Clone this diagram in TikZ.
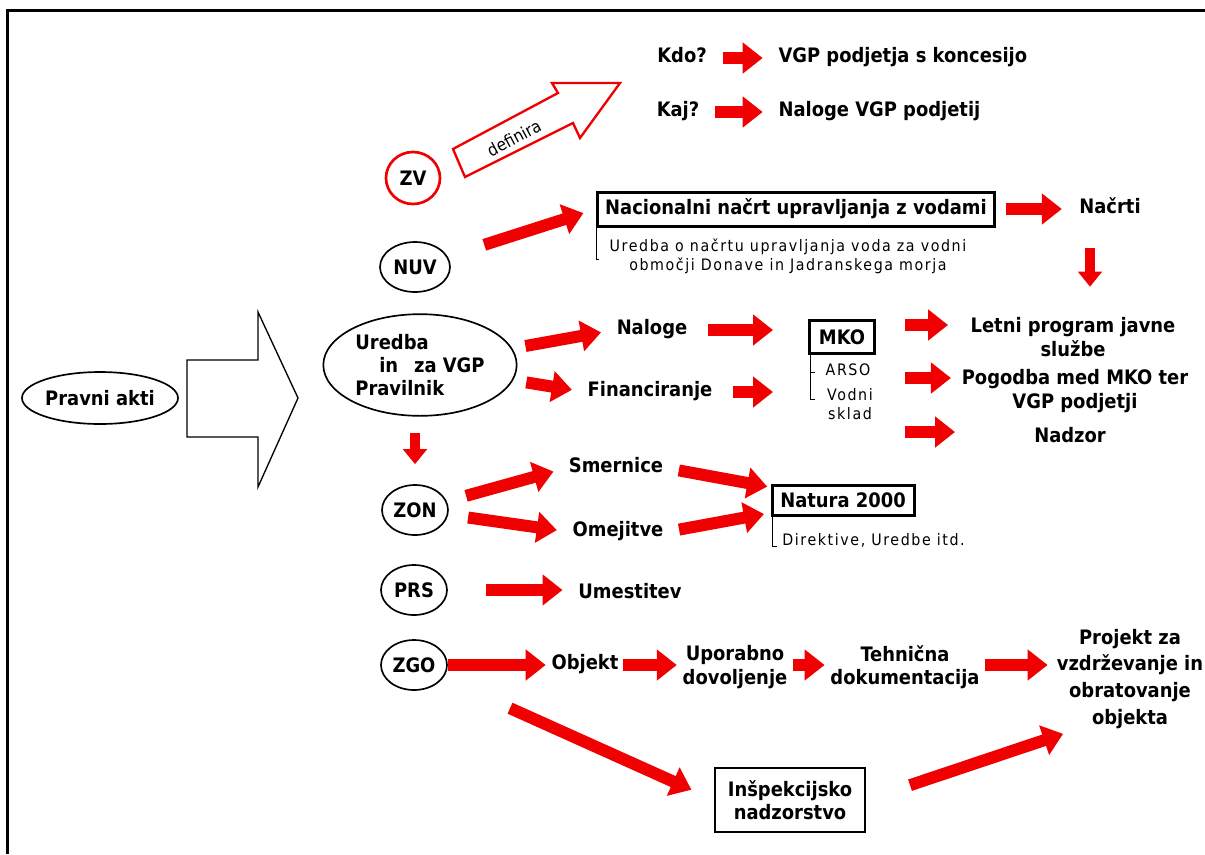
\documentclass[tikz,border=0pt]{standalone}
\usepackage{fontspec}
\setmainfont{DejaVu Sans Condensed}
\usetikzlibrary{shapes.geometric, arrows.meta, calc}
\definecolor{arrred}{RGB}{240,0,0}

\begin{document}
\begin{tikzpicture}[x=0.03cm, y=-0.03cm,
    txt/.style={font=\bfseries\fontsize{17}{20}\selectfont, inner sep=2pt},
    line/.style={txt, text height=12.5pt, text depth=4pt},
    note/.style={font=\fontsize{13.5}{16}\selectfont\addfontfeature{LetterSpace=10}, inner sep=1pt},
    oval/.style={ellipse, draw, line width=0.05cm, txt, inner sep=0pt, minimum width=1.98cm, minimum height=1.5cm},
    frame/.style={draw, line width=0.09cm, txt, inner sep=2pt},
    redarr/.style={draw=arrred, line width=0.36cm, -{Triangle[length=0.6cm, width=0.9cm]}, shorten <=0.4cm, shorten >=0.4cm},
    downarr/.style={draw=arrred, line width=0.3cm, -{Triangle[length=0.45cm, width=0.7cm]}}
]
\useasboundingbox (0,0) rectangle (1205,854);
\draw[line width=0.09cm] (7,854) -- (7,10) -- (1205,10);

% Left part
\node[oval, minimum width=4.68cm, minimum height=1.56cm] (pravni) at (100,398) {Pravni akti};
\draw[line width=0.04cm, fill=white] (187,360) -- (258,360) -- (258,312) -- (298,398) -- (258,487) -- (258,437) -- (187,437) -- cycle;

% ZV
\node[oval, draw=arrred, line width=0.08cm, minimum width=1.62cm, minimum height=1.56cm] (zv) at (413,178) {ZV};
\draw[arrred, line width=0.07cm, fill=white] (453,149) -- (558,93) -- (552,83) -- (620,83) -- (580,138) -- (573,123) -- (465,177) -- cycle;
\node[rotate=28, font=\fontsize{14.5}{16}\selectfont] (def) at (514,138) {definira};
\node[line] (kdo) at (682,58) {Kdo?};
\node[line, anchor=west] (vgp) at (776,58) {VGP podjetja s koncesijo};
\node[line] (kaj) at (678,112) {Kaj?};
\node[line, anchor=west] (nalvgp) at (776,112) {Naloge VGP podjetij};
\draw[redarr] (kdo) -- (vgp);
\draw[redarr] (kaj) -- (nalvgp);

% NUV
\node[oval, minimum width=2.1cm] (nuv) at (415,267) {NUV};
\node[frame, minimum width=11.9cm, minimum height=1.02cm] (nac) at (796,209) {Nacionalni načrt upravljanja z vodami};
\draw[line width=0.03cm] (nac.south west) -- ++(0,32) -- ++(3,0);
\node[note, align=center] (uredvod) at (788,256) {Uredba o načrtu upravljanja voda za vodni\\območji Donave in Jadranskega morja};
\node[line] (nacrti) at (1110,209) {Načrti};
\draw[redarr, shorten <=1.15cm] (nuv) -- (nac.west);
\draw[redarr, shorten <=0.3cm, shorten >=0.45cm] (nac) -- (nacrti);

% Uredba in Pravilnik
\node[oval, minimum width=5.8cm, minimum height=3.05cm, inner xsep=-0.6cm, inner ysep=-0.1cm, align=left] (ured) at (420,365) {Uredba\\\hspace{1.2em}in\hspace{0.8em}za VGP\\Pravilnik};
\node[line] (naloge) at (652,330) {Naloge};
\node[line] (fin) at (650,392) {Financiranje};
\draw[redarr] (ured) -- (naloge.west);
\draw[redarr] (ured) -- (fin.west);
\node[frame, minimum width=1.95cm, minimum height=1cm] (mko) at (842,337) {MKO};
\draw[line width=0.03cm] ($(mko.south west)+(2,0)$) -- ++(0,44) -- ++(5,0);
\draw[line width=0.03cm] ($(mko.south west)+(2,17)$) -- ++(5,0);
\node[note] (arso) at (848,370) {ARSO};
\node[note, align=center] (vodni) at (850,404) {Vodni\\sklad};
\draw[redarr, shorten <=0.55cm, shorten >=1.05cm] (naloge) -- (naloge -| mko.west);
\draw[redarr, shorten <=0.55cm, shorten >=1.05cm] (fin) -- (fin -| mko.west);
\node[txt, align=center] (letni) at (1073,337) {Letni program javne\\službe};
\node[txt, align=center] (pogodba) at (1075,391) {Pogodba med MKO ter\\VGP podjetji};
\node[line] (nadzor) at (1070,438) {Nadzor};
\coordinate (m1) at (905,325);
\coordinate (m2) at (905,378);
\coordinate (m3) at (905,432);
\draw[redarr, shorten <=0pt, shorten >=0.6cm] (m1) -- (m1 -| letni.west);
\draw[redarr, shorten <=0pt, shorten >=0.25cm] (m2) -- (m2 -| pogodba.west);
\draw[redarr, shorten <=0pt, shorten >=2.3cm] (m3) -- (m3 -| nadzor.west);
\coordinate (nd) at (1090,0);
\draw[downarr, shorten <=0.8cm, shorten >=0.85cm] (nacrti.south -| nd) -- (letni.north -| nd);

% ZON
\node[oval] (zon) at (415,510) {ZON};
\draw[downarr, shorten <=0.5cm, shorten >=0.6cm] (ured.south -| zon) -- (zon);
\node[line] (smer) at (616,468) {Smernice};
\node[line] (omej) at (618,532) {Omejitve};
\node[frame, minimum width=4.26cm, minimum height=0.9cm] (nat) at (843,500) {Natura 2000};
\draw[line width=0.03cm] ($(nat.south west)+(2,0)$) -- ++(0,30) -- ++(4,0);
\node[note, anchor=west] (dir) at (781,540) {Direktive, Uredbe itd.};
\draw[redarr, shorten <=0.6cm] (zon) -- (smer.west);
\draw[redarr, shorten <=0.6cm] (zon) -- (omej.west);
\draw[redarr, shorten >=0.1cm] (smer.east) -- (nat.170);
\draw[redarr, shorten >=0.2cm] (omej.east) -- (nat.190);

% PRS
\node[oval] (prs) at (414,590) {PRS};
\node[line] (ume) at (630,594) {Umestitev};
\draw[redarr, shorten <=1.15cm] (prs) -- (prs -| ume.west);

% ZGO
\node[oval] (zgo) at (414,665) {ZGO};
\node[line] (obj) at (585,665) {Objekt};
\node[txt, align=center] (upo) at (735,667) {Uporabno\\dovoljenje};
\node[txt, align=center] (teh) at (905,667) {Tehnična\\dokumentacija};
\node[txt, align=center, font=\bfseries\fontsize{17}{23}\selectfont] (proj) at (1130,679) {Projekt za\\vzdrževanje in\\obratovanje\\objekta};
\node[draw, line width=0.045cm, txt, align=center, minimum width=4.5cm, minimum height=1.92cm] (insp) at (790,800) {Inšpekcijsko\\nadzorstvo};
\draw[redarr, shorten <=0pt, shorten >=0.1cm] (zgo) -- (obj);
\draw[redarr, shorten <=0.05cm, shorten >=0.1cm] (obj) -- (obj -| upo.west);
\draw[redarr, shorten <=0.1cm, shorten >=0.1cm] (obj -| upo.east) -- (obj -| teh.west);
\draw[redarr, shorten <=0.1cm, shorten >=0.2cm] (obj -| teh.east) -- (obj -| proj.west);
\draw[redarr, shorten <=2.2cm, shorten >=0.75cm] (zgo) -- (insp.west);
\draw[redarr, shorten <=1.4cm, shorten >=0.2cm] (insp.east) -- ($(proj.south west)!0.2!(proj.south)$);
\end{tikzpicture}
\end{document}
